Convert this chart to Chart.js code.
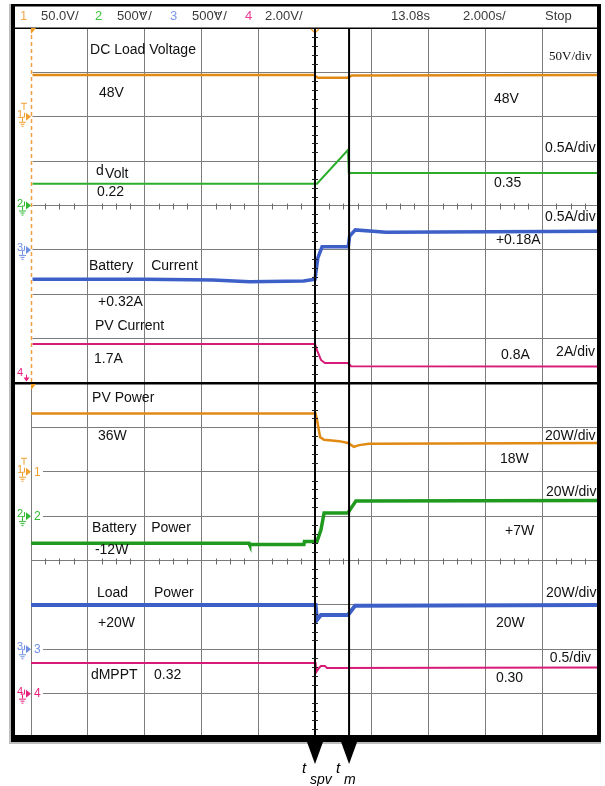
<!DOCTYPE html>
<html><head><meta charset="utf-8">
<script src="https://cdn.jsdelivr.net/npm/chart.js"></script>
<style>html,body{margin:0;padding:0;background:#fff;}canvas{display:block;}</style>
</head><body>
<canvas id="c" width="605" height="786"></canvas>
<script>
// Time in seconds relative to t_spv (2 s/div), values in screen divisions (0 = bottom, 16 = top)
const timeRange = [-10, 10];
const divRange = [0, 16];
const markerTimes = [0, 1.2];
const markerNames = [['t', 'spv'], ['t', 'm']];

const dcLoadT = [-10, -0.05, 0.1, 1.15, 1.3, 10];
const dcLoadV = [14.94, 14.94, 14.88, 14.88, 14.93, 14.94];

const dVoltT = [-10, 0.07, 1.16, 1.19, 10];
const dVoltV = [12.49, 12.49, 13.25, 12.73, 12.73];

const batCurT = [-10, -6, -3.6, -2.3, -0.4, 0, 0.1, 0.25, 1.17, 1.22, 1.42, 2.5, 10];
const batCurV = [10.34, 10.34, 10.32, 10.28, 10.30, 10.34, 10.82, 11.07, 11.07, 11.31, 11.45, 11.40, 11.42];

const pvCurT = [-10, 0, 0.07, 0.21, 0.35, 1.16, 1.27, 10];
const pvCurV = [8.88, 8.88, 8.74, 8.52, 8.45, 8.45, 8.38, 8.37];

const pvPowT = [-10, 0.02, 0.07, 0.18, 0.32, 0.85, 1.16, 1.37, 1.55, 1.9, 10];
const pvPowV = [7.31, 7.31, 7.17, 6.78, 6.72, 6.69, 6.65, 6.56, 6.60, 6.63, 6.65];

const batPowT = [-10, -2.32, -2.3, -0.39, -0.37, 0.07, 0.21, 0.32, 1.16, 1.27, 1.44, 10];
const batPowV = [4.39, 4.39, 4.36, 4.36, 4.43, 4.43, 4.69, 5.07, 5.07, 5.18, 5.34, 5.35];

const loadPowT = [-10, 0.02, 0.07, 0.21, 1.16, 1.41, 10];
const loadPowV = [3.00, 3.00, 2.66, 2.77, 2.77, 2.98, 3.00];

const mpptT = [-10, 0.02, 0.05, 0.14, 0.21, 0.35, 0.42, 10];
const mpptV = [1.69, 1.69, 1.49, 1.58, 1.62, 1.62, 1.58, 1.59];

// Text annotations: [text, time, div, fontKind]
const leftLabels = [
  ['DC Load Voltage', -7.92, 15.50], ['48V', -7.61, 14.54],
  ['0.22', -7.68, 12.30],
  ['Battery', -7.96, 10.64], ['Current', -5.77, 10.64], ['+0.32A', -7.64, 9.83],
  ['PV Current', -7.75, 9.28], ['1.7A', -7.78, 8.54],
  ['PV Power', -7.85, 7.66], ['36W', -7.64, 6.81],
  ['Battery', -7.85, 4.73], ['Power', -5.77, 4.73], ['-12W', -7.75, 4.24],
  ['Load', -7.68, 3.27], ['Power', -5.67, 3.27], ['+20W', -7.64, 2.59],
  ['dMPPT', -7.89, 1.42], ['0.32', -5.67, 1.42]
];
const rightLabels = [
  ['50V/div', 8.24, 15.35, 'serif'], ['48V', 6.30, 14.40], ['0.5A/div', 8.10, 13.30],
  ['0.35', 6.30, 12.51], ['0.5A/div', 8.10, 11.74], ['+0.18A', 6.37, 11.22],
  ['0.8A', 6.55, 8.63], ['2A/div', 8.49, 8.70],
  ['20W/div', 8.10, 6.81], ['18W', 6.51, 6.29], ['20W/div', 8.13, 5.54], ['+7W', 6.69, 4.66],
  ['20W/div', 8.13, 3.27], ['20W', 6.37, 2.59], ['0.5/div', 8.27, 1.80], ['0.30', 6.37, 1.35]
];
const dVoltLabel = [['d', -7.71, 12.77], ['Volt', -7.39, 12.70]];

// Channel markers on the left: [channel, div, kind]
const channelMarkers = [
  [1, 14, 'upper'], [2, 12, 'upper'], [3, 11, 'upper'], [4, 8.1, 'down'],
  [1, 6, 'lower'], [2, 5, 'lower'], [3, 2, 'lower'], [4, 1, 'lower']
];

const COL = {1: '#e08a14', 2: '#22a022', 3: '#3d5fc8', 4: '#d81b78'};
const MCOL = {1: '#f0a030', 2: '#33b833', 3: '#6f8fe0', 4: '#e8207e'};

const seriesStyle = [
  [dcLoadT, dcLoadV, COL[1], 2.5],
  [dVoltT, dVoltV, '#2cae2c', 2],
  [batCurT, batCurV, COL[3], 3.5],
  [pvCurT, pvCurV, COL[4], 2],
  [pvPowT, pvPowV, COL[1], 2.5],
  [batPowT, batPowV, '#1f9a1f', 3.5],
  [loadPowT, loadPowV, COL[3], 4],
  [mpptT, mpptV, COL[4], 2]
];

const datasets = seriesStyle.map(([T, V, c, w]) => ({
  data: T.map((t, i) => ({x: t, y: V[i]})),
  borderColor: c, borderWidth: w, pointRadius: 0, fill: false, tension: 0
}));

const SANS = '"Liberation Sans", Arial, sans-serif';
const SERIF = '"Liberation Serif", "Times New Roman", serif';

const scopePlugin = {
  id: 'scope',
  beforeDraw(chart) {
    const ctx = chart.ctx;
    ctx.save();
    ctx.fillStyle = '#fff';
    ctx.fillRect(0, 0, chart.width, chart.height);
    ctx.restore();
  },
  afterDatasetsDraw(chart) {
    const ctx = chart.ctx;
    const xs = chart.scales.x, ys = chart.scales.y;
    const X = v => xs.getPixelForValue(v), Y = v => ys.getPixelForValue(v);
    const L = X(timeRange[0]), R = X(timeRange[1]);
    ctx.save();
    // minor ticks on the centre axes
    ctx.strokeStyle = '#6a6a6a'; ctx.lineWidth = 1;
    [12, 4].forEach(d => {
      const py = Math.round(Y(d)) + 0.5;
      for (let t = timeRange[0]; t <= timeRange[1]; t += 0.5) {
        if (Math.abs(t % 2) < 1e-6) continue;
        const px = Math.round(X(t)) + 0.5;
        ctx.beginPath(); ctx.moveTo(px, py - 3); ctx.lineTo(px, py + 3); ctx.stroke();
      }
    });
    // left edge of upper half: dashed orange
    ctx.strokeStyle = '#fff'; ctx.lineWidth = 2;
    ctx.beginPath(); ctx.moveTo(L + 0.5, Y(16)); ctx.lineTo(L + 0.5, Y(8)); ctx.stroke();
    ctx.strokeStyle = '#f0a040'; ctx.lineWidth = 1.5; ctx.setLineDash([4, 3]);
    ctx.beginPath(); ctx.moveTo(L + 0.5, Y(16)); ctx.lineTo(L + 0.5, Y(8)); ctx.stroke();
    ctx.setLineDash([]);

    // centre black divider and header line extended to frame
    ctx.fillStyle = '#000';
    ctx.fillRect(15, Math.round(Y(8)) - 1, R - 15, 2.5);
    ctx.fillRect(15, Math.round(Y(16)) - 0.5, R - 15, 1.5);

    // frame
    ctx.fillStyle = '#bdbdbd';
    ctx.fillRect(9, 4, 2, 740);
    ctx.fillRect(9, 742, 592, 2);
    ctx.fillStyle = '#000';
    ctx.fillRect(11, 4, 590, 2.5);
    ctx.fillRect(11, 4, 4, 738);
    ctx.fillRect(597, 4, 4, 738);
    ctx.fillRect(11, Math.round(Y(0)) - 3, 590, 7);

    // header
    ctx.textBaseline = 'middle'; ctx.textAlign = 'left';
    const hy = 16;
    const hd = (txt, x, c) => { ctx.fillStyle = c; ctx.font = '13px ' + SANS; ctx.fillText(txt, x, hy); };
    hd('1', 20, '#f2a850'); hd('50.0V/', 41, '#3a3a3a');
    hd('2', 95, '#3cc43c'); drawMV(117);
    hd('3', 170, '#7a96e6'); drawMV(192);
    hd('4', 245, '#ec3a96'); hd('2.00V/', 265, '#3a3a3a');
    hd('13.08s', 391, '#3a3a3a'); hd('2.000s/', 463, '#3a3a3a'); hd('Stop', 545, '#3a3a3a');
    function drawMV(x) {
      ctx.fillStyle = '#3a3a3a'; ctx.font = '13px ' + SANS;
      ctx.fillText('500', x, hy);
      const w = ctx.measureText('500').width;
      ctx.fillText('V', x + w, hy);
      const vw = ctx.measureText('V').width;
      ctx.fillText('/', x + w + vw + 1, hy);
      ctx.font = 'bold 6px ' + SANS; ctx.fillStyle = '#fff';
      ctx.fillRect(x + w + 2.5, hy - 5, vw - 5, 4);
      ctx.fillStyle = '#3a3a3a';
      ctx.fillText('m', x + w + 2, hy - 3);
    }

    // trigger markers
    ctx.fillStyle = '#f09a20';
    ctx.beginPath(); ctx.moveTo(L, Y(16)); ctx.lineTo(L + 5, Y(16)); ctx.lineTo(L, Y(16) + 6); ctx.closePath(); ctx.fill();
    ctx.beginPath(); ctx.moveTo(L, Y(8) + 1); ctx.lineTo(L + 5, Y(8) + 1); ctx.lineTo(L, Y(8) + 7); ctx.closePath(); ctx.fill();
    const cx = X(0);
    ctx.strokeStyle = '#f09a20'; ctx.lineWidth = 1.2;
    ctx.beginPath(); ctx.moveTo(cx - 4, Y(16) + 1); ctx.lineTo(cx, Y(16) + 5); ctx.lineTo(cx + 4, Y(16) + 1); ctx.stroke();

    // channel markers
    channelMarkers.forEach(([ch, d, kind]) => {
      const py = Y(d), c = MCOL[ch];
      ctx.fillStyle = c; ctx.strokeStyle = c; ctx.lineWidth = 1;
      ctx.font = '11px ' + SANS; ctx.textBaseline = 'middle';
      if (kind === 'down') {
        ctx.fillText(String(ch), 17, py - 6);
        ctx.beginPath(); ctx.moveTo(26.5, py - 4); ctx.lineTo(26.5, py); ctx.stroke();
        ctx.beginPath(); ctx.moveTo(23.5, py - 1); ctx.lineTo(29.5, py - 1); ctx.lineTo(26.5, py + 3); ctx.closePath(); ctx.fill();
        return;
      }
      ctx.fillText(String(ch), 17, py - 2);
      ctx.beginPath();
      ctx.moveTo(22, py + 0.5); ctx.lineTo(24.5, py + 0.5); ctx.lineTo(24.5, py - 4);
      ctx.stroke();
      ctx.beginPath(); ctx.moveTo(26, py - 4); ctx.lineTo(31, py); ctx.lineTo(26, py + 4); ctx.closePath(); ctx.fill();
      ctx.beginPath();
      ctx.moveTo(22.5, py + 1); ctx.lineTo(22.5, py + 5);
      ctx.moveTo(19, py + 5.5); ctx.lineTo(26, py + 5.5);
      ctx.moveTo(20.5, py + 7.5); ctx.lineTo(24.5, py + 7.5);
      ctx.moveTo(21.5, py + 9.5); ctx.lineTo(23.5, py + 9.5);
      ctx.stroke();
      if (ch === 1) {
        ctx.beginPath(); ctx.moveTo(21, py - 13.5); ctx.lineTo(27, py - 13.5); ctx.moveTo(24, py - 13.5); ctx.lineTo(24, py - 7); ctx.stroke();
      }
      if (kind === 'lower') {
        ctx.fillStyle = '#fff'; ctx.fillRect(L + 1, py - 6, 11, 12);
        ctx.fillStyle = c; ctx.font = '12px ' + SANS;
        ctx.fillText(String(ch), L + 3, py + 0.5);
      }
    });

    // t_spv and t_m marker lines with arrows
    markerTimes.forEach((t, i) => {
      const px = X(t);
      ctx.fillStyle = '#000';
      ctx.fillRect(px - 1, Y(16), 2, 742 - Y(16));
      ctx.beginPath(); ctx.moveTo(px - 8, 742); ctx.lineTo(px + 8, 742); ctx.lineTo(px, 764); ctx.closePath(); ctx.fill();
      ctx.font = 'italic 15px ' + SANS; ctx.textAlign = 'left'; ctx.textBaseline = 'middle';
      ctx.fillText(markerNames[i][0], px - 13, 769);
      ctx.font = 'italic 14px ' + SANS;
      ctx.fillText(markerNames[i][1], px - 5, 780);
    });
    // small ticks on centre vertical axis
    ctx.strokeStyle = '#222'; ctx.lineWidth = 1;
    for (let d = 0.2; d < 16; d += 0.2) {
      if (Math.abs(d - Math.round(d)) < 1e-6) continue;
      const py = Math.round(Y(d)) + 0.5;
      ctx.beginPath(); ctx.moveTo(cx - 3, py); ctx.lineTo(cx + 3, py); ctx.stroke();
    }

    // labels
    ctx.fillStyle = '#111'; ctx.textAlign = 'left'; ctx.textBaseline = 'middle';
    leftLabels.concat(rightLabels).forEach(([txt, t, d, kind]) => {
      ctx.font = kind === 'serif' ? '13px ' + SERIF : '14px ' + SANS;
      ctx.fillText(txt, X(t), Y(d));
    });
    ctx.font = '14px ' + SANS;
    dVoltLabel.forEach(([txt, t, d]) => ctx.fillText(txt, X(t), Y(d)));
    ctx.restore();
  }
};

new Chart(document.getElementById('c'), {
  type: 'line',
  data: {datasets},
  options: {
    responsive: false, animation: false, devicePixelRatio: 1,
    layout: {padding: {left: 31, top: 28, right: 6, bottom: 48}},
    plugins: {legend: {display: false}, tooltip: {enabled: false}},
    scales: {
      x: {
        type: 'linear', min: timeRange[0], max: timeRange[1],
        ticks: {display: false, stepSize: 2},
        grid: {drawTicks: false, color: '#7c7c7c', lineWidth: 1},
        border: {display: false}
      },
      y: {
        type: 'linear', min: divRange[0], max: divRange[1],
        ticks: {display: false, stepSize: 1},
        grid: {drawTicks: false, color: '#7c7c7c', lineWidth: 1},
        border: {display: false}
      }
    }
  },
  plugins: [scopePlugin]
});
</script>
</body></html>
